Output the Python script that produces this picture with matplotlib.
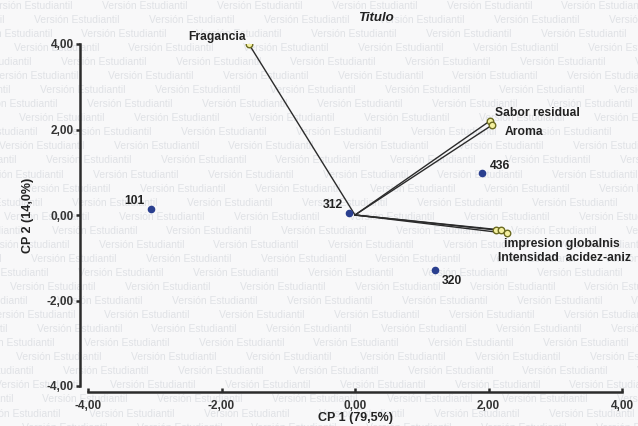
import numpy as np
import matplotlib.pyplot as plt

plt.rcParams['font.family'] = ['Liberation Sans', 'DejaVu Sans']

# Loadings (variables) on CP1 / CP2
var_names = ['Fragancia', 'Sabor residual', 'Aroma', 'impresion global',
             'Intensidad', 'acidez-aniz']
var_x = [-1.59, 2.02, 2.05, 2.11, 2.19, 2.28]
var_y = [4.00, 2.20, 2.10, -0.35, -0.35, -0.43]

# Sample scores
obs_names = ['101', '312', '436', '320']
obs_x = [-3.06, -0.09, 1.90, 1.20]
obs_y = [0.14, 0.05, 0.99, -1.28]

xticks = [-4, -2, 0, 2, 4]
yticks = [-4, -2, 0, 2, 4]

fig = plt.figure(figsize=(6.38, 4.26), dpi=100, facecolor='#f8f8f9')

# student-edition watermark tiled over the page
for i, yy in enumerate(np.arange(0.998, -0.02, -0.033)):
    shift = (i * 0.41) % 1.0 * 0.18
    for xx in np.arange(-0.2 + shift, 1.02, 0.18):
        fig.text(xx, yy, 'Versión Estudiantil', fontsize=7.5, color='#e0e2e6',
                 va='top', ha='left', zorder=0)

ax = fig.add_axes([88 / 638, 1 - 386 / 426, (622 - 88) / 638, (386 - 44) / 426])
ax.set_zorder(1)
ax.patch.set_alpha(0)

dark = '#2b2b2b'
for vx, vy in zip(var_x, var_y):
    ax.plot([0, vx], [0, vy], color=dark, lw=1.0, zorder=2)
ax.scatter(var_x, var_y, s=22, facecolor='#f4f0a0', edgecolor='#6b6a20',
           linewidth=1.0, zorder=3)
ax.scatter(obs_x, obs_y, s=20, color='#2a3f8f', zorder=3)

lab = dict(fontsize=8.7, fontweight='bold', color='#222222',
           textcoords='offset pixels')
ax.annotate('Fragancia', (var_x[0], var_y[0]), xytext=(-61, 4), **lab)
ax.annotate('Sabor residual', (var_x[1], var_y[1]), xytext=(5, 5), **lab)
ax.annotate('Aroma', (var_x[2], var_y[2]), xytext=(13, -1), va='top', **lab)
ax.annotate('impresion globalnis', (var_x[3], var_y[3]), xytext=(8, -8),
            va='top', **lab)
ax.annotate('Intensidad  acidez-aniz', (var_x[3], var_y[3]), xytext=(2, -22),
            va='top', **lab)

ax.annotate('101', (obs_x[0], obs_y[0]), xytext=(-26, 5), **lab)
ax.annotate('312', (obs_x[1], obs_y[1]), xytext=(-26, 5), **lab)
ax.annotate('436', (obs_x[2], obs_y[2]), xytext=(8, 4), **lab)
ax.annotate('320', (obs_x[3], obs_y[3]), xytext=(7, -11), va='center', **lab)

ax.set_xlim(-4, 4)
ax.set_ylim(-4, 4)
ax.set_xticks(xticks)
ax.set_yticks(yticks)
ax.set_xticklabels([f'{t:.2f}'.replace('.', ',') for t in xticks])
ax.set_yticklabels([f'{t:.2f}'.replace('.', ',') for t in yticks])

for s in ['top', 'right']:
    ax.spines[s].set_visible(False)
ax.spines['left'].set_position(('outward', 6))
ax.spines['bottom'].set_position(('outward', 4))
for s in ['left', 'bottom']:
    ax.spines[s].set_linewidth(1.8)
    ax.spines[s].set_color(dark)

ax.tick_params(axis='y', direction='out', length=3, width=1.8, color=dark,
               labelsize=8.5, labelcolor='#333333', pad=1)
ax.tick_params(axis='x', direction='in', length=3, width=1.8, color=dark,
               labelsize=8.5, labelcolor='#333333', pad=6)
for t in ax.get_xticklabels() + ax.get_yticklabels():
    t.set_fontweight('bold')

ax.set_xlabel('CP 1 (79,5%)', fontsize=9, fontweight='bold', color='#222222',
              labelpad=0)
ax.set_ylabel('CP 2 (14,0%)', fontsize=9, fontweight='bold', color='#222222',
              labelpad=9)
fig.text(376 / 638, 1 - 18 / 426, 'Titulo', fontsize=9.5, fontweight='bold',
         fontstyle='italic', color='#222222', ha='center', va='center',
         zorder=5)

fig.savefig('out.png', dpi=100, facecolor=fig.get_facecolor())
